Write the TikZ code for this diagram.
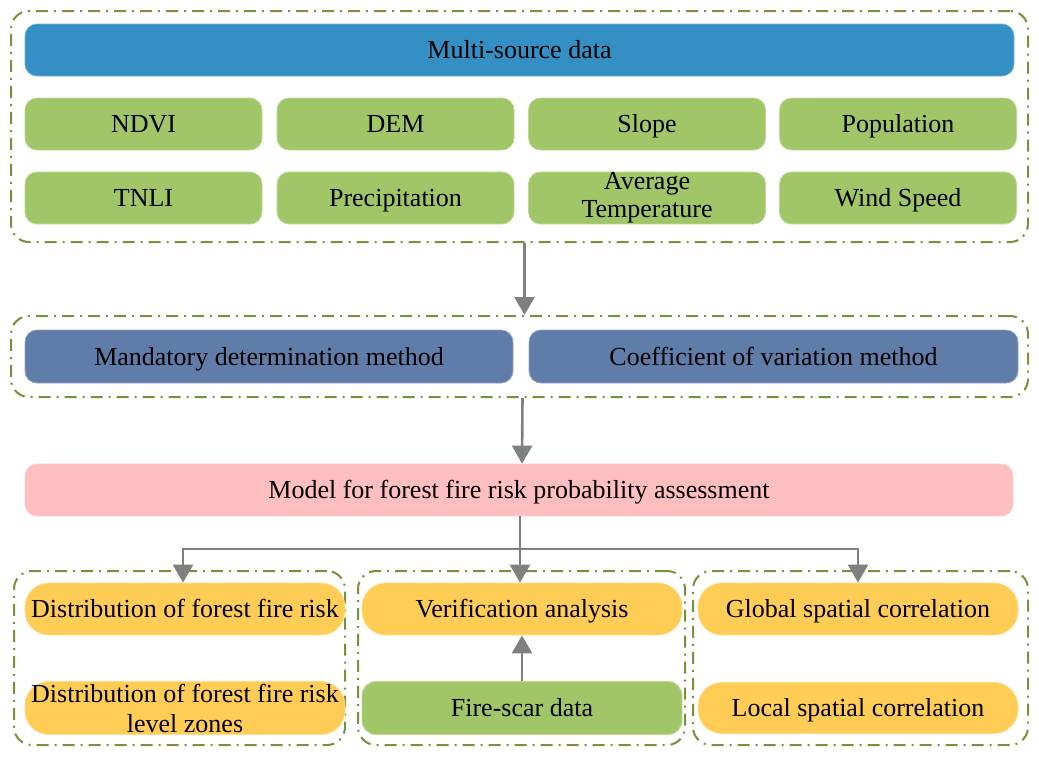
\documentclass[tikz,border=0pt]{standalone}
\usepackage{fontspec}
\setmainfont{Liberation Serif}
\usetikzlibrary{arrows.meta}
\definecolor{cblue}{RGB}{52,144,196}
\definecolor{cgreen}{RGB}{160,198,104}
\definecolor{cslate}{RGB}{96,124,168}
\definecolor{cpink}{RGB}{255,190,192}
\definecolor{corange}{RGB}{255,204,85}
\definecolor{colive}{RGB}{118,146,60}
\definecolor{cgray}{RGB}{128,128,128}
\tikzset{
  box/.style={rectangle, rounded corners=12pt, inner sep=0pt, align=center,
    font=\fontsize{26}{29}\selectfont, text height=20pt, text depth=3pt, line width=0.8pt},
  multi/.style={text height={}, text depth={}},
  bluebox/.style={box, fill=cblue, draw=cblue!70!white},
  greenbox/.style={box, fill=cgreen, draw=cgreen!70!white, minimum width=237pt, minimum height=52pt},
  slatebox/.style={box, fill=cslate, draw=cslate!70!white, minimum height=53pt},
  pinkbox/.style={box, fill=cpink, draw=cpink!80!white},
  pillbox/.style={box, rounded corners=24pt, minimum width=320pt, minimum height=52pt},
  orangebox/.style={pillbox, fill=corange, draw=corange!70!white},
  greenpill/.style={pillbox, rounded corners=14pt, fill=cgreen, draw=cgreen!70!white},
  container/.style={rectangle, rounded corners=18pt, draw=colive, line width=2pt,
    dash pattern=on 12pt off 6pt on 2pt off 6pt, inner sep=0pt},
  arr/.style={draw=cgray, line width=2.6pt, -{Triangle[width=20pt,length=18pt]}},
  plain/.style={draw=cgray, line width=2.6pt}
}
\begin{document}
\begin{tikzpicture}[x=1pt,y=-1pt]
\useasboundingbox (0,0) rectangle (1039,756);
% containers
\node[container, minimum width=1017pt, minimum height=231pt] (c1) at (519.5,126.5) {};
\node[container, minimum width=1017pt, minimum height=81pt] (c2) at (519.5,356.5) {};
\node[container, minimum width=331pt, minimum height=174pt] (cl) at (179.5,658) {};
\node[container, minimum width=327pt, minimum height=174pt] (cm) at (521.5,658) {};
\node[container, minimum width=335pt, minimum height=174pt] (cr) at (860.5,658) {};
% top block
\node[bluebox, minimum width=989pt, minimum height=52pt] (ms) at (519.5,50) {Multi-source data};
\node[greenbox] (ndvi) at (143.5,124) {NDVI};
\node[greenbox] (dem) at (395.5,124) {DEM};
\node[greenbox] (slope) at (647,124) {Slope};
\node[greenbox] (pop) at (898,124) {Population};
\node[greenbox] (tnli) at (143.5,198) {TNLI};
\node[greenbox] (prec) at (395.5,198) {Precipitation};
\node[greenbox, multi, font=\fontsize{26}{28}\selectfont] (temp) at (647,198) {Average\\Temperature};
\node[greenbox] (wind) at (898,198) {Wind Speed};
% methods
\node[slatebox, minimum width=488pt] (mdm) at (269,356.5) {Mandatory determination method};
\node[slatebox, minimum width=489pt] (cvm) at (773.5,356.5) {Coefficient of variation method};
% model
\node[pinkbox, minimum width=988pt, minimum height=52pt] (model) at (519,490) {Model for forest fire risk probability assessment};
% bottom
\node[orangebox] (l1) at (185,609) {Distribution of forest fire risk};
\node[orangebox, multi, minimum height=53pt, font=\fontsize{26}{30}\selectfont] (l2) at (185,708) {Distribution of forest fire risk\\level zones};
\node[orangebox] (m1) at (522,609) {Verification analysis};
\node[greenpill, minimum height=53pt] (fs) at (522,708) {Fire-scar data};
\node[orangebox] (r1) at (858,609) {Global spatial correlation};
\node[orangebox, minimum height=51pt] (r2) at (858,708) {Local spatial correlation};
% arrows
\draw[arr] ([xshift=5pt]c1.south) -- ([xshift=5pt]c2.north);
\draw[arr] ([xshift=3pt]c2.south) -- ([xshift=3pt]model.north);
\coordinate (br) at (520,549);
\draw[plain] (model.south -| br) -- (br);
\draw[arr] (br) -- (br |- m1.north);
\draw[arr] (br) -| ([xshift=-2pt]l1.north);
\draw[arr] (br) -| (r1.north);
\draw[arr] (fs.north) -- (m1.south);
\end{tikzpicture}
\end{document}
